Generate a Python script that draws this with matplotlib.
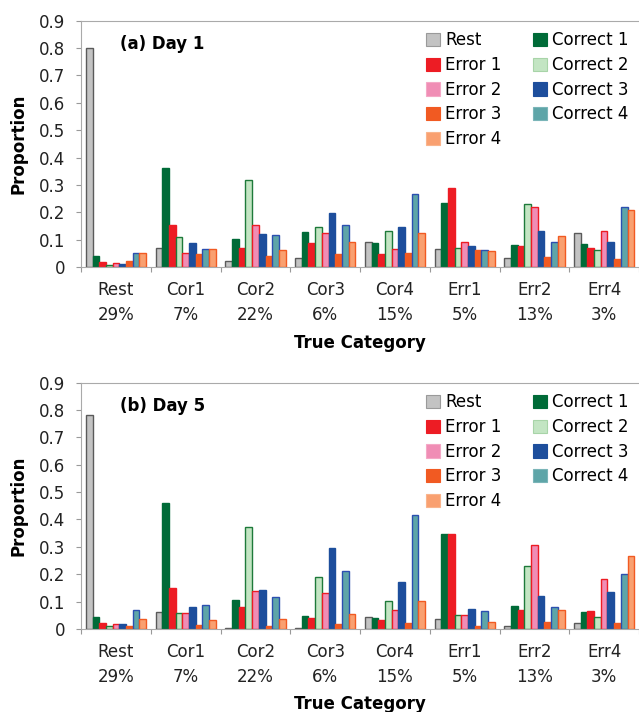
import numpy as np
import matplotlib
matplotlib.use("Agg")
import matplotlib.pyplot as plt
from matplotlib.patches import Patch

# categories on the x axis
cats = ['Rest\n29%', 'Cor1\n7%', 'Cor2\n22%', 'Cor3\n6%', 'Cor4\n15%',
        'Err1\n5%', 'Err2\n13%', 'Err4\n3%']

# series, in bar order within each group
series = ['Rest', 'Correct 1', 'Error 1', 'Correct 2', 'Error 2',
          'Correct 3', 'Error 3', 'Correct 4', 'Error 4']

# Day 1 values, one list per series (across the 8 categories)
day1_rest = [0.80, 0.070, 0.022, 0.034, 0.092, 0.065, 0.033, 0.124]
day1_cor1 = [0.040, 0.362, 0.102, 0.128, 0.088, 0.234, 0.080, 0.083]
day1_err1 = [0.018, 0.155, 0.070, 0.087, 0.049, 0.290, 0.078, 0.070]
day1_cor2 = [0.009, 0.110, 0.318, 0.145, 0.132, 0.070, 0.229, 0.062]
day1_err2 = [0.015, 0.050, 0.152, 0.126, 0.065, 0.093, 0.220, 0.132]
day1_cor3 = [0.012, 0.088, 0.120, 0.196, 0.145, 0.078, 0.132, 0.091]
day1_err3 = [0.021, 0.047, 0.040, 0.048, 0.051, 0.063, 0.037, 0.028]
day1_cor4 = [0.050, 0.067, 0.118, 0.153, 0.268, 0.062, 0.090, 0.220]
day1_err4 = [0.050, 0.065, 0.062, 0.090, 0.124, 0.059, 0.113, 0.207]

# Day 5 values
day5_rest = [0.78, 0.061, 0.004, 0.005, 0.043, 0.037, 0.010, 0.023]
day5_cor1 = [0.043, 0.462, 0.105, 0.049, 0.040, 0.346, 0.085, 0.062]
day5_err1 = [0.022, 0.149, 0.080, 0.041, 0.033, 0.346, 0.068, 0.066]
day5_cor2 = [0.010, 0.059, 0.372, 0.190, 0.102, 0.050, 0.229, 0.045]
day5_err2 = [0.017, 0.057, 0.137, 0.132, 0.070, 0.050, 0.307, 0.184]
day5_cor3 = [0.017, 0.080, 0.144, 0.296, 0.173, 0.073, 0.122, 0.135]
day5_err3 = [0.011, 0.013, 0.010, 0.017, 0.021, 0.010, 0.026, 0.021]
day5_cor4 = [0.070, 0.087, 0.118, 0.213, 0.416, 0.065, 0.079, 0.201]
day5_err4 = [0.038, 0.033, 0.035, 0.056, 0.102, 0.027, 0.071, 0.265]

day1 = [day1_rest, day1_cor1, day1_err1, day1_cor2, day1_err2,
        day1_cor3, day1_err3, day1_cor4, day1_err4]
day5 = [day5_rest, day5_cor1, day5_err1, day5_cor2, day5_err2,
        day5_cor3, day5_err3, day5_cor4, day5_err4]

fills = ['#c3c3c3', '#006b38', '#ed1c24', '#c3e5c3', '#f08db5',
         '#1d4e9c', '#f15a22', '#5ea5a8', '#f9a070']
edges = ['#5a5a5a', '#006b38', '#ed1c24', '#1e7a3a', '#ed1c24',
         '#1d4e9c', '#f15a22', '#2b4fb0', '#f15a22']
# legend squares only have a faint border
leg_edges = ['#9a9a9a', '#006b38', '#ed1c24', '#a8d4a8', '#f4a8c6',
             '#1d4e9c', '#f15a22', '#7ab5b8', '#f9b48c']

plt.rcParams['font.family'] = 'DejaVu Sans'

fig = plt.figure(figsize=(6.39, 7.12), dpi=100)
ax1 = fig.add_axes([0.127, 0.625, 0.873, 0.346])
ax2 = fig.add_axes([0.127, 0.1166, 0.873, 0.346])

bw = 0.096
x = np.arange(len(cats))


def draw(ax, data, title):
    for i, vals in enumerate(data):
        ax.bar(x + 0.5 + (i - 4) * bw, vals, bw, color=fills[i],
               edgecolor=edges[i], linewidth=1.0)
    ax.set_xlim(0, 8)
    ax.set_ylim(0, 0.9)
    ax.set_yticks(np.arange(0, 0.91, 0.1))
    ax.set_yticklabels(['0'] + ['%.1f' % v for v in np.arange(0.1, 0.91, 0.1)],
                       fontsize=12, color='#222222')
    ax.set_xticks(np.arange(0, 9))
    ax.set_xticklabels([])
    ax.set_xticks(x + 0.5, minor=True)
    ax.set_xticklabels(cats, minor=True, fontsize=12, color='#222222',
                       linespacing=1.5)
    ax.tick_params(axis='x', which='minor', length=0, pad=10)
    ax.tick_params(axis='x', which='major', length=3.6, color='#999999',
                   direction='out')
    ax.tick_params(axis='y', length=3.6, color='#999999', direction='out',
                   pad=8)
    for s in ['left', 'bottom', 'top']:
        ax.spines[s].set_color('#aaaaaa')
    ax.spines['right'].set_visible(False)
    ax.set_ylabel('Proportion', fontsize=12, fontweight='bold', va='center')
    ax.yaxis.set_label_coords(-0.113, 0.5)
    ax.set_xlabel('True Category', fontsize=12, fontweight='bold')
    ax.xaxis.set_label_coords(0.5, -0.27)
    ax.text(0.07, 0.905, title, transform=ax.transAxes, fontsize=12,
            fontweight='bold', va='center')
    order = [0, 2, 4, 6, 8, 1, 3, 5, 7]
    handles = [Patch(facecolor=fills[k], edgecolor=leg_edges[k], linewidth=0.8)
               for k in order]
    ax.legend(handles, [series[k] for k in order],
              ncol=2, loc='upper right', bbox_to_anchor=(1.0, 1.0),
              frameon=False, fontsize=12, handlelength=0.85,
              handleheight=0.85, handletextpad=0.3, columnspacing=1.85,
              labelspacing=0.4, borderpad=0, borderaxespad=0.65)


draw(ax1, day1, '(a) Day 1')
draw(ax2, day5, '(b) Day 5')

fig.savefig('out.png', dpi=100)
